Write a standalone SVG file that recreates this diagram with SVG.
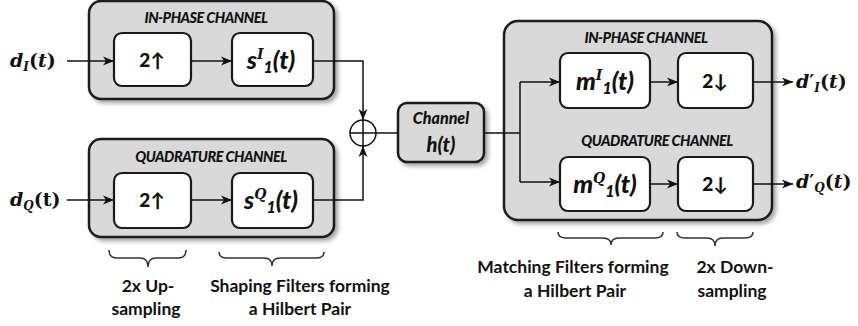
<svg xmlns="http://www.w3.org/2000/svg" width="858" height="326" viewBox="0 0 858 326">
<style>
.cont{fill:#d9d9d9;stroke:#1a1a1a;stroke-width:2.5;filter:url(#sh)}
.box{fill:#fff;stroke:#1a1a1a;stroke-width:2.2}
.ln{fill:none;stroke:#111;stroke-width:1.5}
.br{fill:none;stroke:#333;stroke-width:1.5}
.ch{font-family:Lato,"Open Sans",sans-serif;font-weight:900;font-style:italic;font-size:14.5px;letter-spacing:-0.5px;text-anchor:middle;fill:#111}
.bl{font-family:Lato,"Open Sans",sans-serif;font-weight:900;text-anchor:middle;fill:#111}
.fl{font-family:Lato,"Open Sans",sans-serif;font-weight:900;font-style:italic;text-anchor:middle;fill:#111}
.sp{font-family:"DejaVu Serif","Liberation Serif",serif;font-style:italic;font-weight:bold}
.mt{font-family:"DejaVu Serif","Liberation Serif",serif;font-weight:bold;fill:#111;font-size:19px}
.cap{font-family:Lato,"Open Sans",sans-serif;font-weight:bold;font-size:17.5px;text-anchor:middle;fill:#111}
</style>
<defs>
<filter id="sh" x="-10%" y="-10%" width="125%" height="130%">
<feDropShadow dx="3" dy="3" stdDeviation="2" flood-color="#000" flood-opacity="0.35"/>
</filter>
<marker id="ar" markerWidth="12" markerHeight="10" refX="11" refY="5" orient="auto" markerUnits="userSpaceOnUse">
<path d="M0,0.5 L11,5 L0,9.5 L3,5 z" fill="#111"/>
</marker>
</defs>

<g id="inphase-tx">
<rect class="cont" x="89" y="1" width="245" height="98" rx="12"/>
<text class="ch" x="206" y="23">IN-PHASE CHANNEL</text>
</g>
<g id="up-i">
<rect class="box" x="114" y="33" width="77" height="53" rx="8"/>
<text class="bl" x="152" y="67" font-size="19">2↑</text>
</g>
<g id="s-i">
<rect class="box" x="232" y="33" width="81" height="53" rx="8"/>
<text class="fl" x="271" y="69" font-size="25">s<tspan class="sp" font-size="14" dy="-10">I</tspan><tspan font-size="16" dy="14">1</tspan><tspan dy="-4">(t)</tspan></text>
</g>

<g id="quad-tx">
<rect class="cont" x="89" y="139" width="245" height="98" rx="12"/>
<text class="ch" x="211" y="162">QUADRATURE CHANNEL</text>
</g>
<g id="up-q">
<rect class="box" x="114" y="173" width="77" height="55" rx="8"/>
<text class="bl" x="152" y="207" font-size="19">2↑</text>
</g>
<g id="s-q">
<rect class="box" x="232" y="173" width="81" height="55" rx="8"/>
<text class="fl" x="271" y="209" font-size="25">s<tspan class="sp" font-size="14" dy="-10">Q</tspan><tspan font-size="16" dy="14">1</tspan><tspan dy="-4">(t)</tspan></text>
</g>

<g id="sum">
<circle cx="363" cy="133" r="13" fill="#fff" stroke="#111" stroke-width="1.5"/>
<path class="ln" d="M350,133 H376 M363,120 V146"/>
</g>

<g id="channel">
<rect x="398" y="103" width="86" height="59" rx="9" fill="#d9d9d9" stroke="#1a1a1a" stroke-width="2.5" filter="url(#sh)"/>
<text class="fl" x="441" y="124" font-size="16">Channel</text>
<text class="fl" x="441" y="152" font-size="20">h(t)</text>
</g>

<g id="rx">
<rect class="cont" x="504" y="21" width="268" height="199" rx="14"/>
<text class="ch" x="646" y="43">IN-PHASE CHANNEL</text>
<text class="ch" x="657" y="146">QUADRATURE CHANNEL</text>
</g>
<g id="m-i">
<rect class="box" x="560" y="53" width="90" height="55" rx="8"/>
<text class="fl" x="605" y="90" font-size="25">m<tspan class="sp" font-size="14" dy="-10">I</tspan><tspan font-size="16" dy="14">1</tspan><tspan dy="-4">(t)</tspan></text>
</g>
<g id="down-i">
<rect class="box" x="678" y="53" width="75" height="55" rx="8"/>
<text class="bl" x="715" y="88" font-size="19">2↓</text>
</g>
<g id="m-q">
<rect class="box" x="560" y="157" width="90" height="54" rx="8"/>
<text class="fl" x="605" y="193" font-size="25">m<tspan class="sp" font-size="14" dy="-10">Q</tspan><tspan font-size="16" dy="14">1</tspan><tspan dy="-4">(t)</tspan></text>
</g>
<g id="down-q">
<rect class="box" x="678" y="157" width="75" height="54" rx="8"/>
<text class="bl" x="715" y="191" font-size="19">2↓</text>
</g>

<g id="labels">
<text class="mt" x="10" y="67"><tspan font-style="italic">d</tspan><tspan font-style="italic" font-size="12" dy="4">I</tspan><tspan dy="-4">(</tspan><tspan font-style="italic">t</tspan>)</text>
<text class="mt" x="10" y="206"><tspan font-style="italic">d</tspan><tspan font-style="italic" font-size="12" dy="4">Q</tspan><tspan dy="-4">(t)</tspan></text>
<text class="mt" x="796" y="88"><tspan font-style="italic">d</tspan>′<tspan font-style="italic" font-size="12" dy="4">I</tspan><tspan dy="-4">(</tspan><tspan font-style="italic">t</tspan>)</text>
<text class="mt" x="796" y="188"><tspan font-style="italic">d</tspan>′<tspan font-style="italic" font-size="12" dy="4">Q</tspan><tspan dy="-4">(</tspan><tspan font-style="italic">t</tspan>)</text>
</g>

<g id="connectors">
<path class="ln" d="M67,61 H114" marker-end="url(#ar)"/>
<path class="ln" d="M191,61 H232" marker-end="url(#ar)"/>
<path class="ln" d="M313,61 H363 V120" marker-end="url(#ar)"/>
<path class="ln" d="M67,200 H114" marker-end="url(#ar)"/>
<path class="ln" d="M191,200 H232" marker-end="url(#ar)"/>
<path class="ln" d="M313,200 H363 V146" marker-end="url(#ar)"/>
<path class="ln" d="M376,133 H398"/>
<path class="ln" d="M484,133 H520"/>
<path class="ln" d="M520,82 V182"/>
<path class="ln" d="M520,82 H560" marker-end="url(#ar)"/>
<path class="ln" d="M520,182 H560" marker-end="url(#ar)"/>
<path class="ln" d="M650,82 H678" marker-end="url(#ar)"/>
<path class="ln" d="M650,184 H678" marker-end="url(#ar)"/>
<path class="ln" d="M753,82 H793" marker-end="url(#ar)"/>
<path class="ln" d="M753,184 H793" marker-end="url(#ar)"/>
</g>

<g id="braces">
<path class="br" d="M109,250 Q109,258 117,258 H140 Q148,258 148,267 Q148,258 156,258 H178 Q186,258 186,250"/>
<path class="br" d="M219,252 Q219,258 227,258 H264 Q272,258 272,266 Q272,258 280,258 H316 Q324,258 324,252"/>
<path class="br" d="M558,232 Q558,238 566,238 H603 Q611,238 611,245 Q611,238 619,238 H655 Q663,238 663,232"/>
<path class="br" d="M677,232 Q677,238 685,238 H707 Q715,238 715,246 Q715,238 723,238 H745 Q753,238 753,232"/>
</g>

<g id="captions">
<text class="cap" x="148" y="292">2x Up-</text>
<text class="cap" x="146" y="315">sampling</text>
<text class="cap" x="300" y="292">Shaping  Filters  forming</text>
<text class="cap" x="300" y="315">a Hilbert  Pair</text>
<text class="cap" x="573" y="273">Matching  Filters  forming</text>
<text class="cap" x="575" y="297">a Hilbert  Pair</text>
<text class="cap" x="735" y="273">2x Down-</text>
<text class="cap" x="732" y="297">sampling</text>
</g>
</svg>
